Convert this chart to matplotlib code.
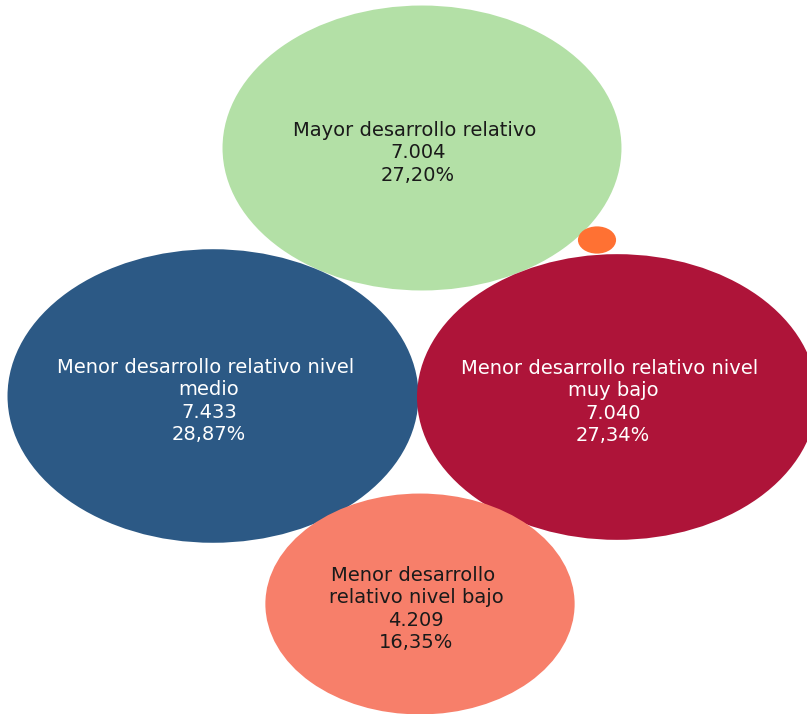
import matplotlib.pyplot as plt
from matplotlib.patches import Ellipse
import numpy as np

# 数据
categorias = ['Mayor desarrollo relativo',
              'Menor desarrollo relativo nivel medio',
              'Menor desarrollo relativo nivel muy bajo',
              'Menor desarrollo relativo nivel bajo',
              '']
valores = [7004, 7433, 7040, 4209, 64]
porcentajes = ['27,20%', '28,87%', '27,34%', '16,35%', '']
etiquetas = ['Mayor desarrollo relativo ',
             'Menor desarrollo relativo nivel \nmedio',
             'Menor desarrollo relativo nivel \nmuy bajo',
             'Menor desarrollo \nrelativo nivel bajo',
             '']
colores = ['#B3E0A6', '#2C5985', '#AE1439', '#F77F6A', '#FF7133']
color_texto = ['#1a1a1a', 'white', 'white', '#1a1a1a', 'white']

# 布局 (像素坐标)
centros = [(422, 148), (213, 396), (617, 397), (420, 604), (597, 240)]
escala = 3.405      # 高度 = escala * sqrt(valor)
estiramiento = 1.40  # 宽/高

fig = plt.figure(figsize=(8.07, 7.14), dpi=100)
ax = fig.add_axes([0, 0, 1, 1])
ax.set_xlim(0, 807)
ax.set_ylim(714, 0)
ax.axis('off')

for i, v in enumerate(valores):
    h = escala * np.sqrt(v)
    w = h * estiramiento
    cx, cy = centros[i]
    ax.add_patch(Ellipse((cx, cy), w, h, facecolor=colores[i], edgecolor='none'))
    if etiquetas[i]:
        texto = f"{etiquetas[i]}\n{v:,}".replace(',', '.') + f"\n{porcentajes[i]}"
        ax.text(cx - 4, cy + 5, texto, ha='center', va='center', multialignment='center',
                fontsize=14, family='DejaVu Sans', color=color_texto[i], linespacing=1.22)

plt.savefig('out.png', dpi=100)
plt.close()
